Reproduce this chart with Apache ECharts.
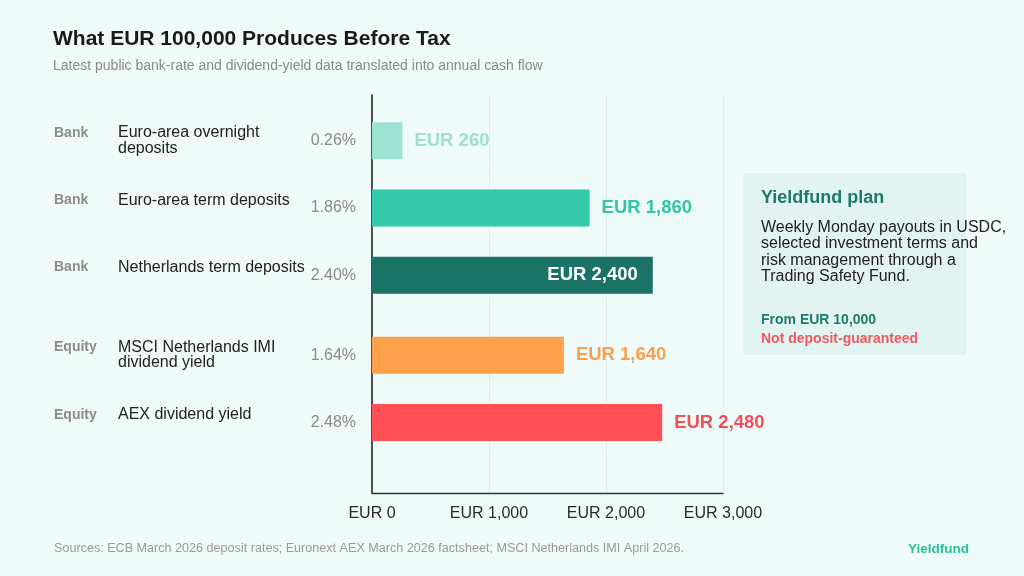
<!DOCTYPE html>
<html>
<head>
<meta charset="utf-8">
<script src="https://cdn.jsdelivr.net/npm/echarts@6/dist/echarts.min.js"></script>
<style>
html,body{margin:0;padding:0;background:#effbf9;}
#chart{width:1024px;height:576px;}
</style>
</head>
<body>
<div id="chart"></div>
<script>
// ---- data ----
const groups = ['Bank', 'Bank', 'Bank', 'Equity', 'Equity'];
const names = ['Euro-area overnight\ndeposits', 'Euro-area term deposits', 'Netherlands term deposits', 'MSCI Netherlands IMI\ndividend yield', 'AEX dividend yield'];
const rates = ['0.26%', '1.86%', '2.40%', '1.64%', '2.48%'];
const values = [260, 1860, 2400, 1640, 2480];
const xTicks = [0, 1000, 2000, 3000];

// ---- styles ----
const FONT = '"Liberation Sans", Arial, Helvetica, sans-serif';
const barColors = ['#9ce3d3', '#34c9a8', '#1b7266', '#ffa04d', '#ff4f56'];
const labelColors = ['#9fdfd0', '#33c4a6', '#ffffff', '#f7a04f', '#ef5058'];
const labelInside = [false, false, true, false, false];

const xMin = xTicks[0], xMax = xTicks[xTicks.length - 1], xStep = xTicks[1] - xTicks[0];
const fmtEUR = v => 'EUR ' + Number(v).toLocaleString('en-US');

function idxOf(g) { return groups.map((x, i) => x === g ? i : -1).filter(i => i >= 0); }
const bankIdx = idxOf('Bank');
const eqIdx = idxOf('Equity');

const gridL = 372, gridR = 1024 - 723;

function yAxesFor(gridIndex, ids) {
  const common = {
    gridIndex, type: 'category', inverse: true, position: 'left',
    axisLine: { show: false }, axisTick: { show: false }, splitLine: { show: false }
  };
  return [
    Object.assign({}, common, {
      data: ids.map(i => rates[i]),
      axisLabel: { interval: 0, margin: 16, fontFamily: FONT, fontSize: 16, color: '#8a8a8a', padding: [0, 0, 5, 0] }
    }),
    Object.assign({}, common, {
      data: ids.map(i => names[i]),
      axisLabel: {
        interval: 0, margin: gridL - 118, align: 'left', fontFamily: FONT, fontSize: 16, lineHeight: 15.5,
        color: '#222222', padding: [0, 0, 6, 0],
        formatter: v => v.indexOf('\n') >= 0 ? v : v + '\n'
      }
    }),
    Object.assign({}, common, {
      data: ids.map(i => groups[i]),
      axisLabel: {
        interval: 0, margin: gridL - 54, align: 'left', fontFamily: FONT, fontSize: 14, fontWeight: 'bold', lineHeight: 15.5,
        color: '#8c8c8c', padding: [0, 0, 6, 0],
        formatter: v => v + '\n'
      }
    })
  ];
}

function seriesFor(xi, yi, ids) {
  return {
    type: 'bar', xAxisIndex: xi, yAxisIndex: yi, barWidth: 37, silent: true,
    data: ids.map(i => ({
      value: values[i],
      itemStyle: { color: barColors[i] },
      label: {
        show: true,
        position: labelInside[i] ? 'insideRight' : 'right',
        distance: labelInside[i] ? 15 : 12,
        color: labelColors[i],
        fontFamily: FONT, fontSize: 18.5, fontWeight: 'bold',
        formatter: p => fmtEUR(p.value)
      }
    }))
  };
}

const hiddenX = gi => ({
  gridIndex: gi, type: 'value', min: xMin, max: xMax, interval: xStep,
  show: false, splitLine: { show: false }
});

const option = {
  backgroundColor: '#effbf9',
  animation: false,
  title: [
    { text: 'What EUR 100,000 Produces Before Tax', left: 53, top: 29, padding: 0,
      textStyle: { fontFamily: FONT, fontSize: 21, fontWeight: 'bold', color: '#1a1a1a' } },
    { text: 'Latest public bank-rate and dividend-yield data translated into annual cash flow', left: 53, top: 59, padding: 0,
      textStyle: { fontFamily: FONT, fontSize: 14, fontWeight: 'normal', color: '#8a8a8a' } },
    { text: 'Sources: ECB March 2026 deposit rates; Euronext AEX March 2026 factsheet; MSCI Netherlands IMI April 2026.', left: 54, top: 542, padding: 0,
      textStyle: { fontFamily: FONT, fontSize: 12.6, fontWeight: 'normal', color: '#9a9a9a' } },
    { text: 'Yieldfund', left: 908, top: 542, padding: 0,
      textStyle: { fontFamily: FONT, fontSize: 13.5, fontWeight: 'bold', color: '#2dbf9c' } }
  ],
  grid: [
    { left: gridL, right: gridR, top: 95, bottom: 576 - 493, outerBoundsMode: 'none' },
    { left: gridL, right: gridR, top: 107.1, height: 201.75, outerBoundsMode: 'none' },
    { left: gridL, right: gridR, top: 321.7, height: 134.5, outerBoundsMode: 'none' }
  ],
  xAxis: [
    {
      gridIndex: 0, type: 'value', min: xMin, max: xMax, interval: xStep,
      axisLine: { show: true, lineStyle: { color: '#333333', width: 1.3 } },
      axisTick: { show: false },
      splitLine: { show: true, lineStyle: { color: '#e1ecea', width: 1 } },
      axisLabel: { margin: 13, fontFamily: FONT, fontSize: 16, color: '#2a2a2a', formatter: fmtEUR }
    },
    hiddenX(1),
    hiddenX(2)
  ],
  yAxis: [
    {
      gridIndex: 0, type: 'value', min: 0, max: 1, show: true,
      axisLine: { show: true, lineStyle: { color: '#1a1a1a', width: 1.5 } },
      axisTick: { show: false }, axisLabel: { show: false }, splitLine: { show: false }
    }
  ].concat(yAxesFor(1, bankIdx), yAxesFor(2, eqIdx)),
  series: [
    seriesFor(1, 1, bankIdx),
    seriesFor(2, 4, eqIdx)
  ],
  graphic: [
    { type: 'rect', left: 743, top: 173, shape: { width: 223, height: 182 }, style: { fill: '#e2f4f1' }, silent: true },
    { type: 'text', left: 761, top: 189, style: { text: 'Yieldfund plan', font: 'bold 18px ' + FONT, fill: '#1f7a6c' } },
    { type: 'text', left: 761, top: 219, style: { text: 'Weekly Monday payouts in USDC,\nselected investment terms and\nrisk management through a\nTrading Safety Fund.', font: '16px ' + FONT, lineHeight: 16.5, fill: '#222222' } },
    { type: 'text', left: 761, top: 313, style: { text: 'From EUR 10,000', font: 'bold 14px ' + FONT, fill: '#1f7a6c' } },
    { type: 'text', left: 761, top: 332, style: { text: 'Not deposit-guaranteed', font: 'bold 14px ' + FONT, fill: '#ec5a60' } }
  ]
};

const chart = echarts.init(document.getElementById('chart'), null, { renderer: 'canvas' });
chart.setOption(option);
</script>
</body>
</html>
